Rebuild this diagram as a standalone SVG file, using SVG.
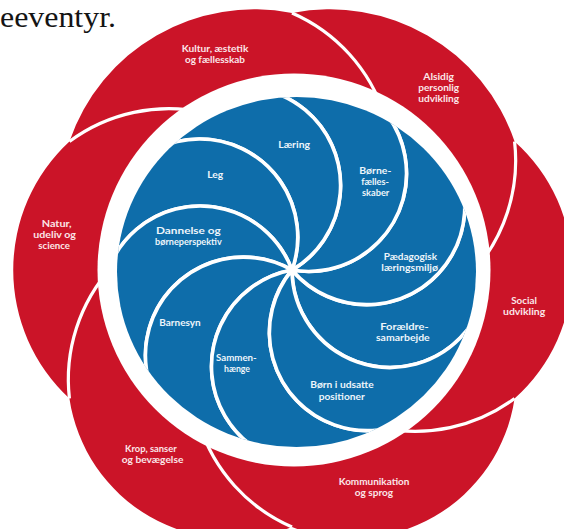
<svg xmlns="http://www.w3.org/2000/svg" width="564" height="529" viewBox="0 0 564 529">
<defs>
<style>
.red{fill:#cb1428;}
.blue{fill:#0e6daa;stroke:#ffffff;stroke-width:3.6;stroke-linejoin:round;}
.sep{fill:none;stroke:#ffffff;stroke-width:3.2;}
.rl{font-family:Lato,"Open Sans",sans-serif;font-weight:700;font-size:9px;fill:#fbe6e8;}
.bl{font-family:Lato,"Open Sans",sans-serif;font-weight:700;font-size:9.2px;fill:#edf5fb;}
</style>
<clipPath id="bc"><ellipse cx="296.5" cy="272" rx="179.5" ry="175"/></clipPath>
</defs>
<rect width="564" height="529" fill="#ffffff"/>
<text x="0" y="27" font-family="Liberation Serif,serif" font-size="30" fill="#141414" textLength="116" lengthAdjust="spacingAndGlyphs">eeventyr.</text>

<g id="red-petals">
<g id="alsidig">
<path class="red" d="M472,273.1 A167,167 0 0 0 514.57,141.5 A195,195 0 0 0 292,13 A167,167 0 0 1 384.7,115.7 L292,270 Z"/>
<text class="rl" x="423.3" y="79.5" textLength="30.7" lengthAdjust="spacingAndGlyphs">Alsidig</text>
<text class="rl" x="418.2" y="90.7" textLength="41" lengthAdjust="spacingAndGlyphs">personlig</text>
<text class="rl" x="418.2" y="101.9" textLength="41" lengthAdjust="spacingAndGlyphs">udvikling</text>
</g>
<g id="kultur">
<path class="red" d="M384.7,115.7 A167,167 0 0 0 292,13 A195,195 0 0 0 69.43,141.5 A167,167 0 0 1 204.7,112.6 L292,270 Z"/>
<text class="rl" x="181.7" y="52.2" textLength="66.7" lengthAdjust="spacingAndGlyphs">Kultur, æstetik</text>
<text class="rl" x="185" y="63.4" textLength="60" lengthAdjust="spacingAndGlyphs">og fællesskab</text>
</g>
<g id="natur">
<path class="red" d="M204.7,112.6 A167,167 0 0 0 69.43,141.5 A175,175 0 0 0 69.43,398.5 A167,167 0 0 1 112,266.9 L292,270 Z"/>
<text class="rl" x="41.7" y="226.5" textLength="30" lengthAdjust="spacingAndGlyphs">Natur,</text>
<text class="rl" x="33.3" y="237.7" textLength="42.7" lengthAdjust="spacingAndGlyphs">udeliv og</text>
<text class="rl" x="38.3" y="248.9" textLength="31.7" lengthAdjust="spacingAndGlyphs">science</text>
</g>
<g id="krop">
<path class="red" d="M112,266.9 A167,167 0 0 0 69.43,398.5 A164,164 0 0 0 292,527 A167,167 0 0 1 199.3,424.3 L292,270 Z"/>
<text class="rl" x="125" y="451.9" textLength="51.7" lengthAdjust="spacingAndGlyphs">Krop, sanser</text>
<text class="rl" x="121.7" y="463.1" textLength="61.7" lengthAdjust="spacingAndGlyphs">og bevægelse</text>
</g>
<g id="kommunikation">
<path class="red" d="M199.3,424.3 A167,167 0 0 0 292,527 A164,164 0 0 0 514.57,398.5 A167,167 0 0 1 379.3,427.4 L292,270 Z"/>
<text class="rl" x="338.7" y="484.7" textLength="70.7" lengthAdjust="spacingAndGlyphs">Kommunikation</text>
<text class="rl" x="354.8" y="495.9" textLength="38.3" lengthAdjust="spacingAndGlyphs">og sprog</text>
</g>
<g id="social">
<path class="red" d="M379.3,427.4 A167,167 0 0 0 514.57,398.5 A172,172 0 0 0 514.57,141.5 A167,167 0 0 1 472,273.1 L292,270 Z"/>
<text class="rl" x="511.2" y="304.2" textLength="25.7" lengthAdjust="spacingAndGlyphs">Social</text>
<text class="rl" x="503" y="315.4" textLength="42.3" lengthAdjust="spacingAndGlyphs">udvikling</text>
</g>
</g>

<g id="separators">
<path class="sep" d="M384.7,115.7 A167,167 0 0 0 292,13"/>
<path class="sep" d="M472,273.1 A167,167 0 0 0 514.57,141.5"/>
<path class="sep" d="M379.3,427.4 A167,167 0 0 0 514.57,398.5"/>
<path class="sep" d="M199.3,424.3 A167,167 0 0 0 292,527"/>
<path class="sep" d="M112,266.9 A167,167 0 0 0 69.43,398.5"/>
<path class="sep" d="M204.7,112.6 A167,167 0 0 0 69.43,141.5"/>
</g>

<circle id="ring" cx="294" cy="270" r="196.5" fill="#ffffff"/>

<g id="blue-petals">
<g id="foraeldresamarbejde">
<path class="blue" clip-path="url(#bc)" d="M292,270 A98,98 0 1 0 464.74,206.1 A98,98 0 0 1 292,270 Z"/>
<text class="bl" x="380.3" y="330.2" textLength="48.3" lengthAdjust="spacingAndGlyphs">Forældre-</text>
<text class="bl" x="376" y="341.4" textLength="53.7" lengthAdjust="spacingAndGlyphs">samarbejde</text>
</g>
<g id="paedagogisk">
<path class="blue" clip-path="url(#bc)" d="M292,270 A98,98 0 1 0 383.25,110.02 A98,98 0 0 1 292,270 Z"/>
<text class="bl" x="383.7" y="259.7" textLength="53.3" lengthAdjust="spacingAndGlyphs">Pædagogisk</text>
<text class="bl" x="381.3" y="270.9" textLength="56.7" lengthAdjust="spacingAndGlyphs">læringsmiljø</text>
</g>
<g id="boernefaellesskaber">
<path class="blue" clip-path="url(#bc)" d="M292,270 A98,98 0 1 0 259.07,88.79 A98,98 0 0 1 292,270 Z"/>
<text class="bl" x="359.3" y="174" textLength="32" lengthAdjust="spacingAndGlyphs">Børne-</text>
<text class="bl" x="361.3" y="185.2" textLength="27.7" lengthAdjust="spacingAndGlyphs">fælles-</text>
<text class="bl" x="362" y="196.4" textLength="27.3" lengthAdjust="spacingAndGlyphs">skaber</text>
</g>
<g id="laering">
<path class="blue" clip-path="url(#bc)" d="M292,270 A98,98 0 1 0 150.29,152.35 A98,98 0 0 1 292,270 Z"/>
<text class="bl" x="278.3" y="147.5" textLength="31.7" lengthAdjust="spacingAndGlyphs">Læring</text>
</g>
<g id="leg">
<path class="blue" clip-path="url(#bc)" d="M292,270 A98,98 0 1 0 107.82,270.96 A98,98 0 0 1 292,270 Z"/>
<text class="bl" x="207.3" y="177.5" textLength="16" lengthAdjust="spacingAndGlyphs">Leg</text>
</g>
<g id="dannelse">
<path class="blue" clip-path="url(#bc)" d="M292,270 A98,98 0 1 0 151.53,389.12 A98,98 0 0 1 292,270 Z"/>
<text class="bl" x="156" y="233.7" textLength="64.7" lengthAdjust="spacingAndGlyphs">Dannelse og</text>
<text class="bl" x="155" y="244.9" textLength="66.7" lengthAdjust="spacingAndGlyphs">børneperspektiv</text>
</g>
<g id="barnesyn">
<path class="blue" clip-path="url(#bc)" d="M292,270 A98,98 0 1 0 260.97,451.55 A98,98 0 0 1 292,270 Z"/>
<text class="bl" x="159.3" y="326" textLength="41.3" lengthAdjust="spacingAndGlyphs">Barnesyn</text>
</g>
<g id="sammenhaenge">
<path class="blue" clip-path="url(#bc)" d="M292,270 A98,98 0 1 0 384.92,429.02 A98,98 0 0 1 292,270 Z"/>
<text class="bl" x="216" y="360.6" textLength="40.7" lengthAdjust="spacingAndGlyphs">Sammen-</text>
<text class="bl" x="224" y="371.8" textLength="26" lengthAdjust="spacingAndGlyphs">hænge</text>
</g>
<g id="boern-i-udsatte-positioner">
<path class="blue" clip-path="url(#bc)" d="M292,270 A98,98 0 1 0 465.4,332.09 A98,98 0 0 1 292,270 Z"/>
<text class="bl" x="310.3" y="388.4" textLength="63.3" lengthAdjust="spacingAndGlyphs">Børn i udsatte</text>
<text class="bl" x="318.7" y="399.6" textLength="46" lengthAdjust="spacingAndGlyphs">positioner</text>
</g>
</g>
</svg>
